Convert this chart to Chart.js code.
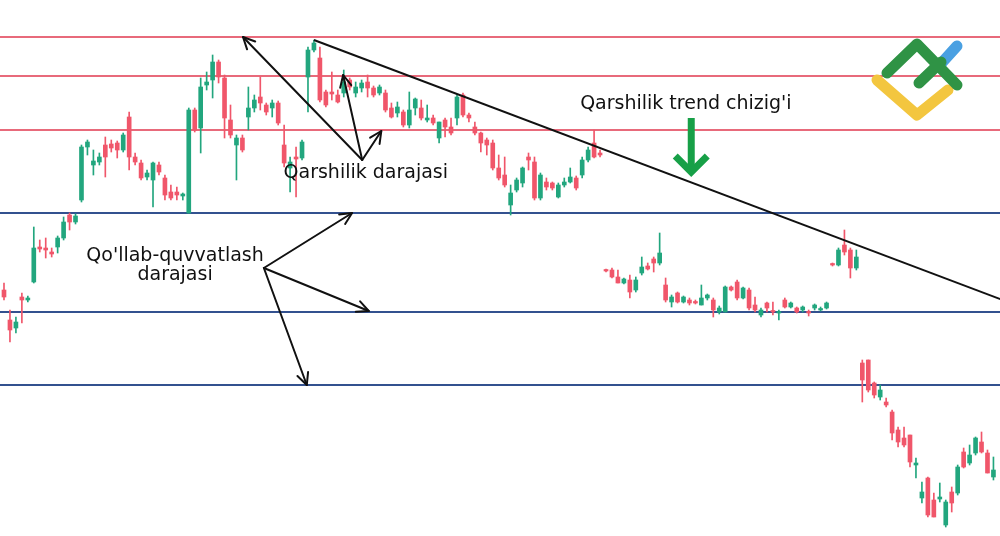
<!DOCTYPE html>
<html lang="uz">
<head>
<meta charset="UTF-8">
<title>Qarshilik va qo'llab-quvvatlash darajalari</title>
<script src="https://cdn.jsdelivr.net/npm/chart.js"></script>
<style>
  html, body { margin: 0; padding: 0; background: #fff; }
  #wrap { width: 1000px; height: 536px; position: relative; }
</style>
</head>
<body>
<div id="wrap"><canvas id="chart"></canvas></div>
<script>
// Sham qiymatlari (shartli narx birligi), har bir sham uchun bittadan
const openP = [246,216,208,239,236,254,289,288,284,289,
  298,321,314,336,389,371,374,391,392,393,
  386,419,379,373,359,356,371,358,344,344,
  340,323,426,408,451,456,474,458,416,391,
  398,419,428,439,431,428,433,391,368,379,
  378,459,486,478,444,444,441,443,456,443,
  448,454,448,443,443,428,423,424,411,428,
  428,416,418,398,416,409,418,441,421,409,
  403,396,393,368,361,331,346,353,379,374,
  338,354,353,339,351,354,358,361,376,393,
  383,266,266,259,253,256,246,263,270,277,
  273,251,234,243,234,236,234,231,238,236,
  224,224,249,254,238,246,231,221,233,225,
  223,236,229,228,226,224,228,226,228,272,
  271,291,286,268,173,176,153,139,134,124,
  106,98,101,71,38,58,36,37,11,44,
  43,84,73,83,94,83,59];
const highP = [253,226,219,243,240,309,296,298,288,300,
  319,323,322,391,396,386,383,399,396,395,
  403,424,383,376,366,374,374,361,351,349,
  343,428,428,458,464,481,476,461,431,401,
  401,449,441,459,433,436,435,411,379,389,
  396,489,496,489,446,464,446,466,458,454,
  456,461,450,451,446,433,434,426,444,438,
  436,431,421,414,418,418,441,443,423,414,
  404,398,396,381,379,351,358,369,383,379,
  363,358,354,353,358,368,360,379,389,406,
  386,267,268,266,258,261,259,279,273,279,
  303,258,241,244,240,238,236,251,242,238,
  230,250,250,256,249,248,239,228,234,234,
  226,238,234,229,230,226,232,229,234,273,
  288,306,288,286,176,176,154,151,138,126,
  109,109,101,78,54,59,43,53,36,49,
  71,88,91,99,104,86,79];
const lowP = [236,194,203,213,234,253,284,278,279,283,
  296,306,312,334,381,361,371,359,384,378,
  384,366,371,356,356,329,361,336,336,336,
  336,323,404,383,446,438,453,398,398,356,
  384,406,424,426,421,419,411,369,344,339,
  376,424,484,434,429,436,433,439,446,439,
  444,439,439,441,424,418,419,409,408,421,
  416,414,411,393,399,401,411,419,414,401,
  384,381,366,356,349,321,344,349,366,336,
  336,346,346,338,349,353,346,358,374,378,
  379,264,258,253,252,238,244,261,266,264,
  271,234,229,233,233,231,232,231,236,219,
  222,224,245,236,237,226,224,219,224,221,
  216,228,228,223,224,220,226,225,227,270,
  270,281,258,266,134,144,138,136,129,96,
  89,89,69,58,33,19,19,34,9,24,
  41,68,71,81,83,63,56];
const closeP = [239,206,214,236,238,288,287,286,282,298,
  314,314,320,389,394,375,379,379,388,386,
  401,379,374,358,363,373,364,341,338,341,
  342,426,406,449,454,474,459,418,401,398,
  386,428,436,433,424,433,413,373,374,377,
  394,486,493,436,431,442,434,454,449,449,
  453,448,441,449,426,419,429,411,426,437,
  418,418,413,414,409,403,439,421,418,403,
  393,391,368,358,351,343,356,368,376,338,
  361,349,348,351,354,359,348,376,386,379,
  381,265,259,253,257,244,256,269,267,273,
  283,236,239,234,239,233,233,238,241,226,
  228,249,246,238,248,228,226,226,228,224,
  224,229,233,224,229,223,231,227,233,271,
  286,284,268,279,156,146,141,146,131,103,
  94,91,74,73,44,21,19,39,34,33,
  69,69,81,98,84,63,66];

// Gorizontal darajalar
const resistance = [499, 460, 406];
const support = [323, 224, 151];
// Qarshilik trend chizig'i (sham indeksi, narx)
const trendLine = [{x: 52, y: 496}, {x: 168, y: 235}];

// Izohlar (sham indeksi, narx)
const arrows = [
  {from: [60.1, 376], to: [40.1, 499]},
  {from: [60.1, 376], to: [56.9, 461]},
  {from: [60.1, 376], to: [63.3, 405]},
  {from: [43.6, 268], to: [58.4, 323]},
  {from: [43.6, 268], to: [61.2, 225]},
  {from: [43.6, 268], to: [50.8, 151]}
];
const labels = [
  {text: 'Qarshilik darajasi', at: [60.7, 363]},
  {text: "Qo'llab-quvvatlash", at: [28.7, 280]},
  {text: 'darajasi', at: [28.7, 261]},
  {text: "Qarshilik trend chizig'i", at: [114.4, 432]}
];
const greenArrow = {x: 115.3, from: 418, to: 361};

const xMin = -0.67, xMax = 167.1;
const colGreen = '#22a67e', colRed = '#f0566a';

const idx = openP.map((_, i) => i);
const candleColor = idx.map(i => closeP[i] >= openP[i] ? colGreen : colRed);

function level(v, color, width) {
    return {
        type: 'line',
        data: [{x: xMin, y: v}, {x: xMax, y: v}],
        borderColor: color,
        borderWidth: width,
        pointRadius: 0,
        order: 3
    };
}

function drawArrowHead(ctx, x1, y1, x2, y2, len) {
    const a = Math.atan2(y2 - y1, x2 - x1);
    ctx.beginPath();
    ctx.moveTo(x2 - len * Math.cos(a - 0.45), y2 - len * Math.sin(a - 0.45));
    ctx.lineTo(x2, y2);
    ctx.lineTo(x2 - len * Math.cos(a + 0.45), y2 - len * Math.sin(a + 0.45));
    ctx.stroke();
}

const annotationsPlugin = {
    id: 'annotations',
    afterDatasetsDraw(chart) {
        const ctx = chart.ctx;
        const xs = chart.scales.x, ys = chart.scales.y;
        ctx.save();

        // qora strelkalar
        ctx.strokeStyle = '#111';
        ctx.lineWidth = 2;
        ctx.lineCap = 'round';
        ctx.lineJoin = 'round';
        arrows.forEach(a => {
            const x1 = xs.getPixelForValue(a.from[0]), y1 = ys.getPixelForValue(a.from[1]);
            const x2 = xs.getPixelForValue(a.to[0]), y2 = ys.getPixelForValue(a.to[1]);
            ctx.beginPath();
            ctx.moveTo(x1, y1);
            ctx.lineTo(x2, y2);
            ctx.stroke();
            drawArrowHead(ctx, x1, y1, x2, y2, 13);
        });

        // matnlar
        ctx.fillStyle = '#111';
        ctx.font = '19px "DejaVu Sans"';
        ctx.textAlign = 'center';
        ctx.textBaseline = 'middle';
        labels.forEach(l => {
            ctx.fillText(l.text, xs.getPixelForValue(l.at[0]), ys.getPixelForValue(l.at[1]));
        });

        // yashil strelka
        const gx = xs.getPixelForValue(greenArrow.x);
        const gy1 = ys.getPixelForValue(greenArrow.from);
        const gy2 = ys.getPixelForValue(greenArrow.to);
        ctx.strokeStyle = '#17a047';
        ctx.lineWidth = 7;
        ctx.lineCap = 'butt';
        ctx.lineJoin = 'miter';
        ctx.beginPath();
        ctx.moveTo(gx, gy1);
        ctx.lineTo(gx, gy2 - 4);
        ctx.stroke();
        ctx.beginPath();
        ctx.moveTo(gx - 16, gy2 - 19);
        ctx.lineTo(gx, gy2 - 3);
        ctx.lineTo(gx + 16, gy2 - 19);
        ctx.stroke();

        // logotip
        const ox = chart.chartArea.right - 125, oy = chart.chartArea.top + 40;
        ctx.lineWidth = 11;
        ctx.lineCap = 'round';
        ctx.lineJoin = 'round';
        ctx.strokeStyle = '#f3c63f';
        ctx.beginPath();
        ctx.moveTo(ox + 2, oy + 40);
        ctx.lineTo(ox + 42, oy + 75);
        ctx.lineTo(ox + 73, oy + 50);
        ctx.stroke();
        ctx.strokeStyle = '#4aa0e2';
        ctx.beginPath();
        ctx.moveTo(ox + 63, oy + 27);
        ctx.lineTo(ox + 82, oy + 6);
        ctx.stroke();
        ctx.strokeStyle = '#2f9345';
        ctx.beginPath();
        ctx.moveTo(ox + 12, oy + 33);
        ctx.lineTo(ox + 42, oy + 4);
        ctx.lineTo(ox + 82, oy + 45);
        ctx.stroke();
        ctx.beginPath();
        ctx.moveTo(ox + 44, oy + 43);
        ctx.lineTo(ox + 66, oy + 22);
        ctx.stroke();

        ctx.restore();
    }
};

new Chart(document.getElementById('chart'), {
    type: 'bar',
    data: {
        datasets: [
            {
                // soyalar
                data: idx.map(i => ({x: i, y: [lowP[i], highP[i]]})),
                backgroundColor: candleColor,
                barThickness: 1,
                grouped: false,
                order: 2
            },
            {
                // sham tanasi
                data: idx.map(i => ({x: i, y: [openP[i], closeP[i]]})),
                backgroundColor: candleColor,
                barThickness: 4,
                minBarLength: 1.5,
                grouped: false,
                order: 1
            },
            ...resistance.map(v => level(v, '#e0394f', 1.5)),
            ...support.map(v => level(v, '#33518f', 2)),
            {
                type: 'line',
                data: trendLine,
                borderColor: '#111',
                borderWidth: 2,
                pointRadius: 0,
                order: 0
            }
        ]
    },
    options: {
        responsive: true,
        maintainAspectRatio: false,
        animation: false,
        layout: {padding: 0},
        plugins: {
            legend: {display: false},
            tooltip: {enabled: false}
        },
        scales: {
            x: {type: 'linear', min: xMin, max: xMax, offset: false, display: false},
            y: {min: 0, max: 536, display: false}
        }
    },
    plugins: [annotationsPlugin]
});
</script>
</body>
</html>
